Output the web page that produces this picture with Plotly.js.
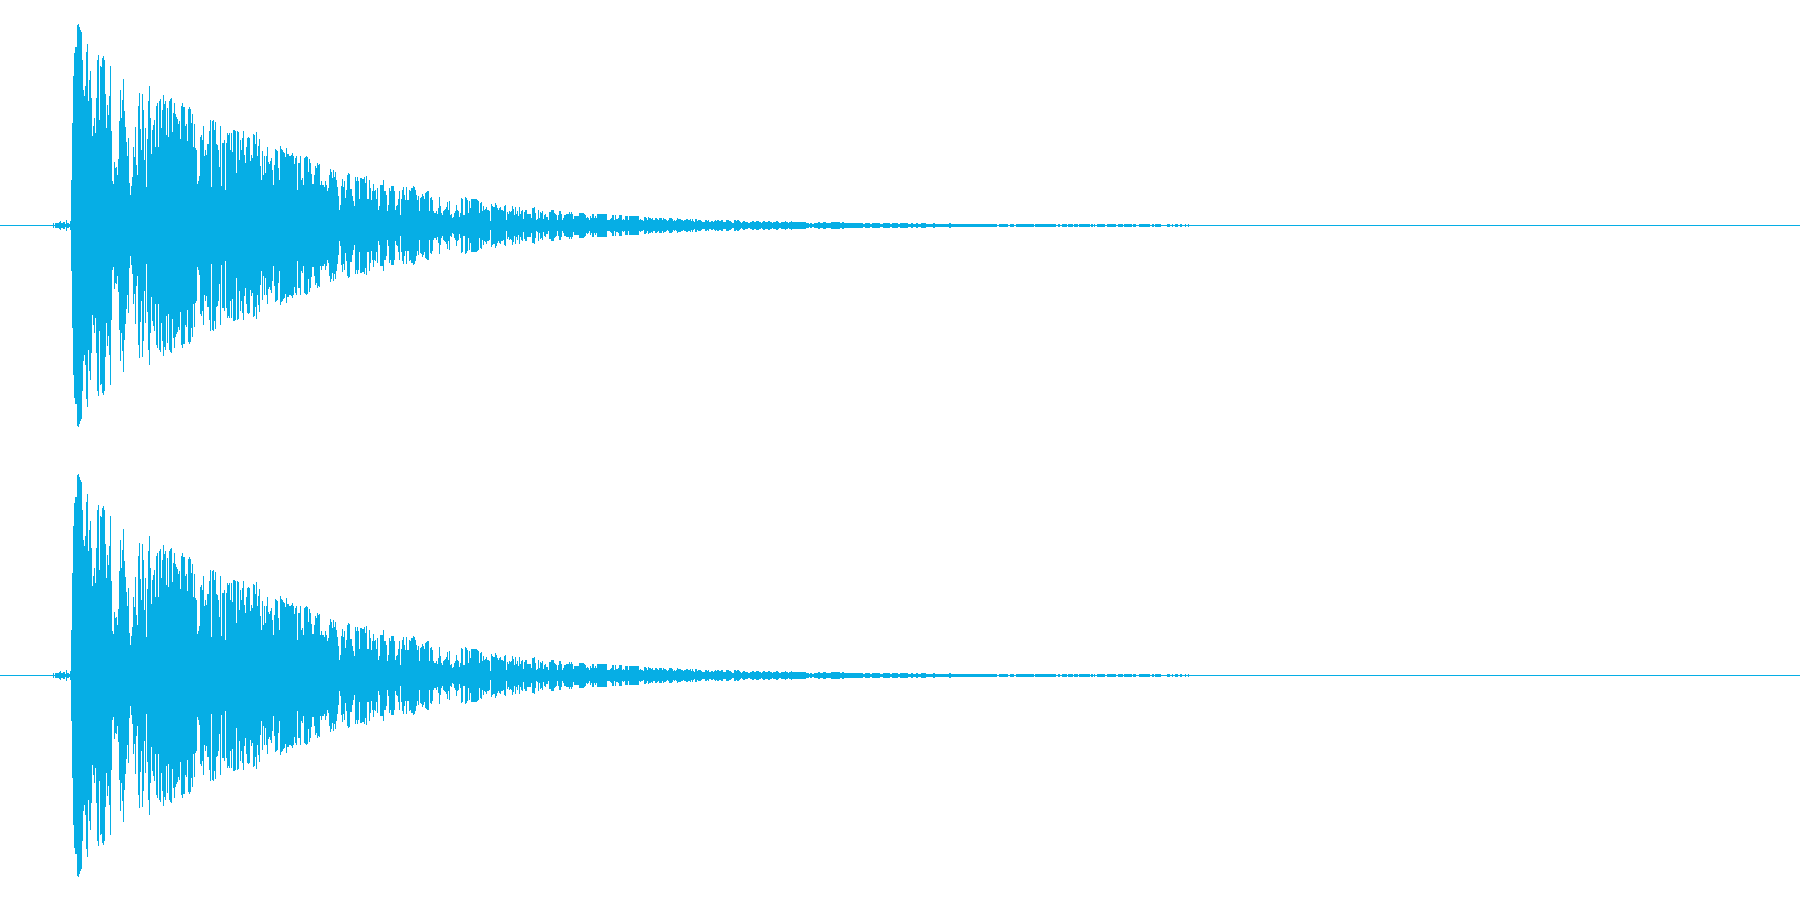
<!DOCTYPE html>
<html>
<head>
<meta charset="utf-8">
<script src="https://cdn.plot.ly/plotly-3.0.1.min.js"></script>
<style>html,body{margin:0;padding:0;background:#fff}#chart{width:1800px;height:900px}</style>
</head>
<body>
<div id="chart"></div>
<script>
// Peak level per display column. Both channels carry the same signal.
const leadSilence = 53;
const preOnset = [2,0,2,2,2,2,3,4,2,2,3,3,1,5,2,2,1,4];
const attack = [45,102,149,172,178,178,200,201,198,195,193,165,135,129,139,173,181,124,145,154,127,89,99,107,92,127,165,170,105,159,158,167,169,165,131,97,120,110,129,159,94,44,41,63,57,58,50,66,104,135,107,125,146,114,98,83,69,87,42,30,39,48,78,68,98,60,50,119,132,96,75,131,115,65,97,38,86,124,139,107,71,95,100,105,78,119,122,78,124,126,97,115,130,121,124,90,117,88,124,126,127,93,112,122,111,108,106,101,104,86,119,122,118,118,99,101,84,116,118,116,102,111,78,101,77,75,41,44,49,88,90,85,99,69,75,70,81,81,94,105,38,104,105,95,103,81,80,75,58,99,39,82,82,85,35,82,92,90,92,75,92,73,95,95,94,52,94,93,65,85,75,87,94,70,62,78,87,88,87];
const body = [64,70,67,91,90,81,93,69,79,86,59,45,74,50,69,52,69,78,63,61,64,67,55,40,60,76,75,74,57,45,79,76,75,73,72,68,77,71,71,69,69,70,72,69,61,67,69,35,62,62,69,45,47,40,67,68,69,68,53,66,62,51,41,41,50,59,57,62,60,61,40,44,40,40,38,44,40,34,37,50,56,53,47,55,48,53,45,38,29,15,20,39,46,38,44,27,35,50,52,51];
const decayA = [36,36,29,24,19,48,44,48,44,26,47,47,46,46,48,42,49,26,26,45,37,25,34,41,34,35,26,37,15,19,40,40,40,45,34,34,30,14,20,37,34,39,39,39,34,15,19,20,26,34,10,26,35,38,30,25,38,25,25,35,34,37,37,39,38,35,30,25,29,14,27,28,31,29,26,32,33,34,34,14,27,28,25,14,12,12,14,11,17,28,19,12,10,14,15,16,18,23,15,24,10,11,7,8,12,14,20,15,14,8,12,27,26,10,10,28,27,25,12,24,17,26,26,26,26,26,26,25,24,12,22,23,14,19,15,16,18,15,15,14,4,21,19,18,18,22,20,17,15,17];
const decayB = [18,15,15,14,19,20,5,13,11,14,13,14,19,16,10,18,11,14,9,18,11,14,15,6,13,15,15,11,11,11,11,7,17,17,18,12,5,6,15,7,13,12,14,6,10,11,8,8,5,13,13,15,15,15,12,11,10,5,10,14,14,11,5,7,10,10,11,11,11,13,11,13,11,6,9,9,9,9,9,12,12,12,12,12,11,10,7,8,7,5,9,7,11,11,7,9,7,11,11,11,11,11,11,11,11,11,11,5,5,5,6,7,10,10,5,10,6,6,7,10,10,10,5,6,5,9,9,9,5,9,9,9,9,9,9,9,9,9,9,5,6,5,5,4,8,8,7,5,8,7];
const decayC = [7,6,7,5,5,7,7,6,5,7,7,7,5,7,6,6,5,4,5,7,7,7,6,4,5,4,5,7,6,6,6,5,5,4,5,5,6,6,5,5,6,4,6,4,3,6,6,4,5,5,5,4,3,3,3,5,5,4,5,3,3,4,4,3,4,5,4,5,5,4,4,5,5,3,3,3,5,5,5,4,4,3,2,2,5,5,4,5,5,4,3,2,3,4,4,3,3,3,2,2,3,3,4,4,3,3,4,4,4,3,3,2,3,4,4,3,3,3,4,4,3,3,2,3,3,3,4,4,3,2,2,3,3,3,3,4,3,3,2,3,3,4,3,3,3,3,3,3,3,3];
// The quiet tail is stored as level / how many columns it holds.
const tailLevels = [3,2,1,2,1,2,3,2,3,2,3,2,3,2,1,2,1,2,1,2,1,2,1,2,1,2,1,2,1,2,1,2,1,2,1, 1,0,1,0,1,0,1,0,1,0,1,0,1,0,1,0,1,0,1,0,1,0,1,0,1,0,1,0,1,0,1,0,1,0,1,0,1,0,1,0,1,0,1,0,1,0,1,0,1,0,1,0];
const tailRuns   = [6,3,1,2,2,4,2,3,3,5,9,2,2,19,2,5,2,8,3,7,2,6,2,8,3,2,3,2,3,5,7,2,14,2,43, 3,2,9,2,4,2,18,1,21,2,2,2,5,1,5,1,4,1,11,1,2,1,1,2,8,2,9,2,5,1,8,1,3,3,11,2,2,1,6,6,3,2,1,2,3,2,2,3,1,2,1,611];

const levels = [];
for (let i = 0; i < leadSilence; i++) levels.push(0);
levels.push(...preOnset, ...attack, ...body, ...decayA, ...decayB, ...decayC);
tailLevels.forEach((lv, i) => { for (let k = 0; k < tailRuns[i]; k++) levels.push(lv); });

const columns = levels.map((_, i) => i + 0.5);
const sampleRow = 0.5;                       // every column is at least one sample row tall
const spans = levels.map(v => 2 * (v + sampleRow));
const bases = levels.map(v => -(v + sampleRow));
const waveColor = '#06aee5';

const mk = (yaxis) => ({
  type: 'bar', x: columns, y: spans, base: bases, width: 1, yaxis,
  marker: {color: waveColor, line: {width: 0}}, hoverinfo: 'skip'
});
const hidden = {visible: false, fixedrange: true};
Plotly.newPlot('chart', [mk('y'), mk('y2')], {
  width: 1800, height: 900, showlegend: false, bargap: 0,
  margin: {l: 0, r: 0, t: 0, b: 0},
  paper_bgcolor: '#fff', plot_bgcolor: '#fff',
  xaxis: {...hidden, range: [0, 1800]},
  yaxis: {...hidden, domain: [0.5, 1], range: [-224.5, 225.5]},
  yaxis2: {...hidden, domain: [0, 0.5], range: [-224.5, 225.5]}
}, {displayModeBar: false, staticPlot: true});
</script>
</body>
</html>
